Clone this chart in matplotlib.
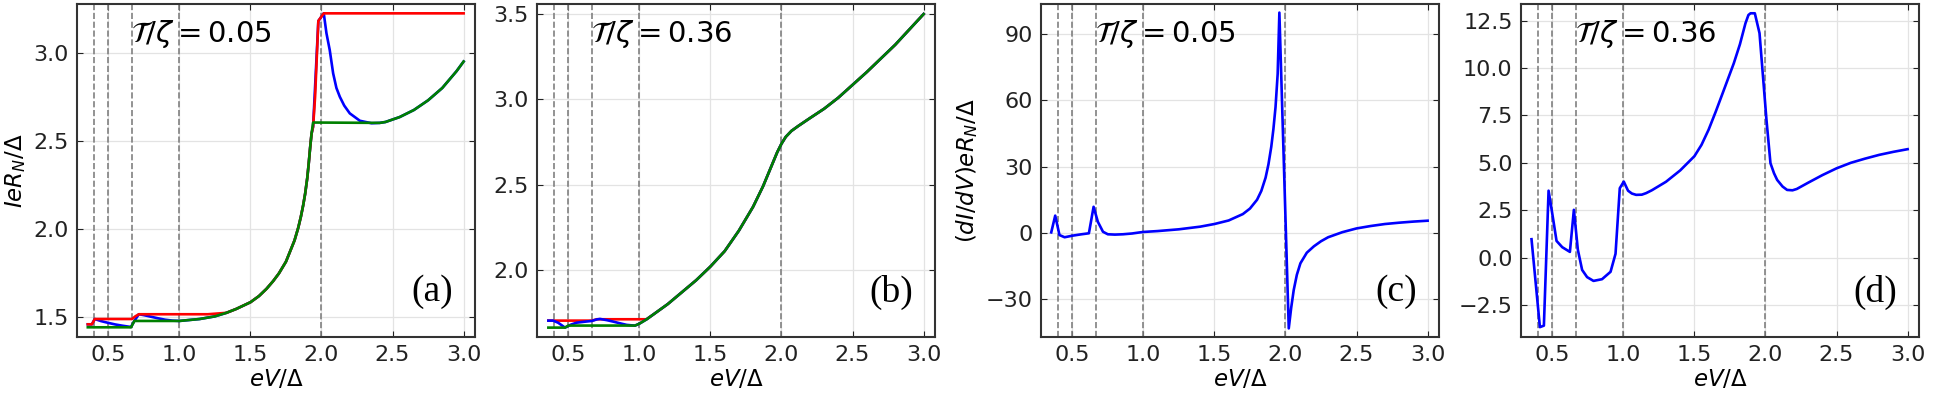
import numpy as np
import matplotlib
matplotlib.use("Agg")
import matplotlib.pyplot as plt

plt.rcParams['font.family'] = ['DejaVu Sans']
plt.rcParams['mathtext.fontset'] = 'dejavusans'

# subharmonic gap positions 2/n
vlines = [0.4, 0.5, 2.0 / 3.0, 1.0, 2.0]
xticks = [0.5, 1.0, 1.5, 2.0, 2.5, 3.0]

# ---------------- (a)  T/zeta = 0.05 ----------------
a_main_x = [1.0, 1.143, 1.25, 1.331, 1.4, 1.5, 1.56, 1.613, 1.66, 1.7, 1.75, 1.78,
            1.81, 1.836, 1.855, 1.871, 1.885, 1.9, 1.91, 1.92, 1.93, 1.941]
a_main_y = [1.479, 1.49, 1.505, 1.525, 1.547, 1.585, 1.62, 1.661, 1.705, 1.748, 1.815, 1.875,
            1.935, 2.006, 2.07, 2.134, 2.20, 2.29, 2.37, 2.46, 2.54, 2.604]

a_tail_x = [2.41, 2.45, 2.55, 2.65, 2.75, 2.85, 2.95, 3.0]
a_tail_y = [2.602, 2.607, 2.635, 2.675, 2.73, 2.80, 2.895, 2.95]

a_red_x = [0.356, 0.385, 0.405, 0.667, 0.69, 0.715, 1.0, 1.2, 1.331] + a_main_x[4:-1] + [1.941, 1.955, 1.978, 2.016, 3.0]
a_red_y = [1.46, 1.46, 1.49, 1.49, 1.505, 1.517, 1.517, 1.517, 1.525] + a_main_y[4:-1] + [2.58, 2.75, 3.18, 3.223, 3.223]

a_blue_x = [0.356, 0.385, 0.405, 0.45, 0.5, 0.55, 0.6, 0.64, 0.66, 0.684, 0.715,
            0.75, 0.8, 0.85, 0.9, 0.95] + a_main_x[:-1] + \
           [1.941, 1.978, 2.016, 2.035, 2.058, 2.082, 2.105, 2.129, 2.16, 2.199, 2.27, 2.352] + a_tail_x
a_blue_y = [1.46, 1.46, 1.49, 1.478, 1.468, 1.459, 1.452, 1.447, 1.445, 1.48, 1.517,
            1.512, 1.503, 1.494, 1.486, 1.481] + a_main_y[:-1] + \
           [2.58, 3.18, 3.223, 3.11, 3.015, 2.883, 2.80, 2.75, 2.70, 2.656, 2.614, 2.60] + a_tail_y

a_green_x = [0.356, 0.66, 0.684] + a_main_x + a_tail_x
a_green_y = [1.443, 1.443, 1.479] + a_main_y + a_tail_y

# ---------------- (b)  T/zeta = 0.36 ----------------
b_main_x = [0.97, 1.0, 1.05, 1.1, 1.2, 1.3, 1.4, 1.5, 1.6, 1.7, 1.8, 1.87, 1.93, 1.97,
            2.0, 2.03, 2.07, 2.12, 2.2, 2.3, 2.4, 2.5, 2.6, 2.7, 2.8, 2.9, 3.0]
b_main_y = [1.674, 1.685, 1.71, 1.74, 1.80, 1.87, 1.94, 2.02, 2.11, 2.23, 2.37, 2.49, 2.61, 2.69,
            2.74, 2.78, 2.815, 2.845, 2.89, 2.945, 3.01, 3.085, 3.16, 3.24, 3.32, 3.41, 3.5]

b_red_x = [0.36, 0.667, 0.70, 1.05] + b_main_x[3:]
b_red_y = [1.703, 1.703, 1.711, 1.711] + b_main_y[3:]

b_blue_x = [0.36, 0.394, 0.43, 0.477, 0.52, 0.559, 0.62, 0.665, 0.70, 0.723, 0.77,
            0.817, 0.87, 0.911, 0.95] + b_main_x
b_blue_y = [1.703, 1.703, 1.69, 1.662, 1.68, 1.691, 1.697, 1.701, 1.71, 1.713, 1.706,
            1.697, 1.686, 1.678, 1.675] + b_main_y

b_green_x = [0.36, 0.477, 0.50] + b_main_x
b_green_y = [1.662, 1.662, 1.674] + b_main_y

# ---------------- (c)  dI/dV, T/zeta = 0.05 ----------------
c_x = [0.352, 0.38, 0.41, 0.446, 0.5, 0.56, 0.617, 0.65, 0.68, 0.716, 0.75, 0.8,
       0.857, 0.92, 0.975, 1.0, 1.1, 1.25, 1.4, 1.5, 1.6, 1.7, 1.75, 1.8, 1.83, 1.86,
       1.88, 1.9, 1.915, 1.93, 1.945, 1.957, 2.023, 2.04, 2.058, 2.08, 2.105, 2.15,
       2.2, 2.25, 2.3, 2.4, 2.5, 2.6, 2.7, 2.8, 2.9, 3.0]
c_y = [0.2, 7.8, -1.0, -2.0, -1.3, -0.7, -0.2, 11.8, 5.0, 0.5, -0.65, -0.8,
       -0.65, -0.3, 0.2, 0.4, 0.8, 1.6, 2.8, 4.0, 5.6, 8.5, 11.0, 15.0, 19.0, 25.0,
       31.0, 39.0, 47.0, 57.0, 72.0, 99.8, -43.3, -34.0, -25.9, -19.0, -13.8, -9.0,
       -6.1, -3.8, -2.0, 0.3, 2.0, 3.1, 4.0, 4.6, 5.1, 5.5]

# ---------------- (d)  dI/dV, T/zeta = 0.36 ----------------
d_x = [0.354, 0.413, 0.441, 0.474, 0.507, 0.53, 0.57, 0.624, 0.652, 0.68, 0.71,
       0.745, 0.79, 0.85, 0.91, 0.945, 0.975, 1.003, 1.033, 1.06, 1.09, 1.13, 1.16,
       1.2, 1.3, 1.4, 1.5, 1.55, 1.6, 1.65, 1.7, 1.777, 1.82, 1.859, 1.88, 1.895, 1.925,
       1.958, 2.007, 2.035, 2.06, 2.082, 2.12, 2.152, 2.19, 2.22, 2.3, 2.4, 2.5,
       2.6, 2.7, 2.8, 2.9, 3.0]
d_y = [0.97, -3.67, -3.59, 3.53, 1.99, 0.88, 0.55, 0.30, 2.52, 0.41, -0.65,
       -1.03, -1.23, -1.14, -0.75, 0.2, 3.66, 4.01, 3.53, 3.38, 3.31, 3.32, 3.40,
       3.55, 4.0, 4.6, 5.35, 5.95, 6.75, 7.7, 8.7, 10.25, 11.25, 12.36, 12.8, 12.89, 12.89,
       11.84, 7.26, 4.98, 4.45, 4.10, 3.75, 3.57, 3.55, 3.62, 3.95, 4.35, 4.71,
       5.0, 5.22, 5.42, 5.58, 5.72]

labels = ['(a)', '(b)', '(c)', '(d)']
params = [r'$\mathcal{T}/\zeta = 0.05$', r'$\mathcal{T}/\zeta = 0.36$',
          r'$\mathcal{T}/\zeta = 0.05$', r'$\mathcal{T}/\zeta = 0.36$']
ylims = [(1.388, 3.276), (1.607, 3.559), (-47.2, 103.7), (-4.19, 13.38)]
yticks = [[1.5, 2.0, 2.5, 3.0], [2.0, 2.5, 3.0, 3.5],
          [-30, 0, 30, 60, 90], [-2.5, 0.0, 2.5, 5.0, 7.5, 10.0, 12.5]]
lefts = [77, 537, 1041, 1521]

fig = plt.figure(figsize=(19.34, 3.97), dpi=100)
axes = []
for i in range(4):
    ax = fig.add_axes([lefts[i] / 1934, 60 / 397, 398 / 1934, 333 / 397])
    axes.append(ax)

lw = 1.9
ax = axes[0]
ax.plot(a_blue_x, a_blue_y, color='blue', lw=lw)
ax.plot(a_red_x, a_red_y, color='red', lw=lw)
ax.plot(a_green_x, a_green_y, color='green', lw=lw)
ax.set_ylabel(r'$IeR_N/\Delta$', fontsize=16.5)

ax = axes[1]
ax.plot(b_red_x, b_red_y, color='red', lw=lw)
ax.plot(b_blue_x, b_blue_y, color='blue', lw=lw)
ax.plot(b_green_x, b_green_y, color='green', lw=lw)

axes[2].plot(c_x, c_y, color='blue', lw=lw)
axes[2].set_ylabel(r'$(dI/dV)eR_N/\Delta$', fontsize=16.5)
axes[3].plot(d_x, d_y, color='blue', lw=lw)

for i, ax in enumerate(axes):
    for v in vlines:
        ax.axvline(v, color='gray', ls='--', lw=1.2, zorder=1)
    ax.set_xlim(0.28, 3.08)
    ax.set_ylim(*ylims[i])
    ax.set_xticks(xticks)
    ax.set_yticks(yticks[i])
    ax.grid(True, color='#e3e3e3', lw=0.9, zorder=0)
    ax.set_axisbelow(True)
    ax.tick_params(direction='in', top=True, right=True, length=4, width=0.8,
                   labelsize=16, pad=6, colors='#222222')
    for s in ax.spines.values():
        s.set_linewidth(1.5)
        s.set_color('#333333')
    ax.set_xlabel(r'$eV/\Delta$', fontsize=16.5, labelpad=2)
    ax.text(0.135, 0.91, params[i], transform=ax.transAxes, fontsize=21,
            ha='left', va='center')
    ax.text(0.945, 0.135, labels[i], transform=ax.transAxes, fontsize=27,
            family='Liberation Serif', ha='right', va='center')

plt.savefig('out.png', dpi=100)
